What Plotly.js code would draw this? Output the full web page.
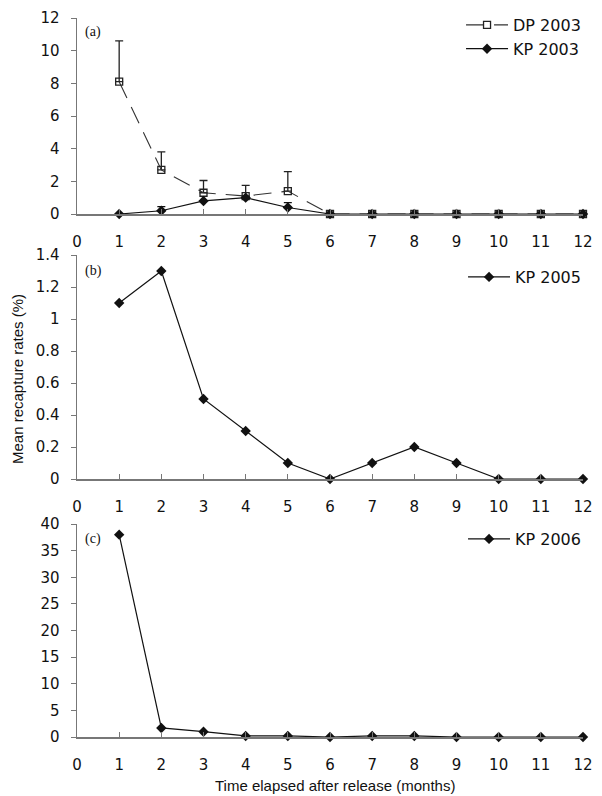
<!DOCTYPE html>
<html>
<head>
<meta charset="utf-8">
<script src="https://cdn.plot.ly/plotly-3.0.1.min.js"></script>
<style>html,body{margin:0;padding:0;background:#fff;}</style>
</head>
<body>
<div id="chart" style="width:602px;height:796px;"></div>
<script>
const months = [1,2,3,4,5,6,7,8,9,10,11,12];
const xTicks = [0,1,2,3,4,5,6,7,8,9,10,11,12];
const dp2003 = [8.1,2.7,1.3,1.1,1.4,0,0,0,0,0,0,0];
const dp2003Err = [2.5,1.1,0.75,0.65,1.2,0,0,0,0,0,0,0];
const kp2003 = [0,0.2,0.8,1.0,0.4,0,0,0,0,0,0,0];
const kp2003Err = [0,0.25,0,0,0.3,0,0,0,0,0,0,0];
const kp2005 = [1.1,1.3,0.5,0.3,0.1,0,0.1,0.2,0.1,0,0,0];
const kp2006 = [38,1.7,1.0,0.2,0.2,0,0.2,0.2,0,0,0,0];
const yTicksA = [0,2,4,6,8,10,12];
const yTicksB = [0,0.2,0.4,0.6,0.8,1,1.2,1.4];
const yTicksC = [0,5,10,15,20,25,30,35,40];
const panelLabels = ['(a)','(b)','(c)'];

const tickFam = 'DejaVu Sans, Verdana, sans-serif';
const fontFam = 'Liberation Sans, Arial, sans-serif';
const serifFam = 'Liberation Serif, Times New Roman, serif';
const black = '#111';

function kpTrace(y, name, xa, ya, legend, err) {
  const t = {
    x: months, y: y, name: name, type: 'scatter', mode: 'lines+markers',
    xaxis: xa, yaxis: ya, legend: legend, cliponaxis: false,
    line: {color: black, width: 1.2},
    marker: {symbol: 'diamond', size: 8, color: black}
  };
  if (err) t.error_y = {type:'data', array: err, arrayminus: months.map(()=>0), symmetric:false, color: black, thickness:1.2, width:4};
  return t;
}

const data = [
  {
    x: months, y: dp2003, name: 'DP 2003', type: 'scatter', mode: 'lines+markers',
    xaxis: 'x', yaxis: 'y', legend: 'legend', cliponaxis: false,
    line: {color: '#333', width: 1.1, dash: '18px,10px'},
    marker: {symbol: 'square-open', size: 7, color: '#222', line: {width: 1.3, color: '#222'}},
    error_y: {type:'data', array: dp2003Err, arrayminus: months.map(()=>0), symmetric:false, color:'#222', thickness:1.3, width:4}
  },
  kpTrace(kp2003, 'KP 2003', 'x', 'y', 'legend', kp2003Err),
  kpTrace(kp2005, 'KP 2005', 'x2', 'y2', 'legend2'),
  kpTrace(kp2006, 'KP 2006', 'x3', 'y3', 'legend3')
];

function xaxis(anchor) {
  return {
    anchor: anchor, domain: [0,1], range: [0,12], tickvals: xTicks, ticktext: xTicks.map(String),
    showgrid: false, zeroline: false, showline: true, linecolor: '#777', linewidth: 1.5,
    ticks: 'inside', ticklen: 5, tickcolor: '#777', tickwidth: 1,
    ticklabelstandoff: 13, automargin: false,
    tickfont: {family: tickFam, size: 15, color: black}
  };
}
function yaxis(anchor, domain, range, ticks) {
  return {
    anchor: anchor, domain: domain, range: range, tickvals: ticks,
    showgrid: false, zeroline: false, showline: true, linecolor: '#777', linewidth: 1.5,
    ticks: 'outside', ticklen: 5, tickcolor: '#777', tickwidth: 1,
    ticklabelstandoff: 8, automargin: false,
    tickfont: {family: tickFam, size: 15, color: black}
  };
}

const H = 719;
const dA = [(737-214)/H, 1];
const dB = [(737-479)/H, (737-255)/H];
const dC = [0, (737-524)/H];

function legend(yTopPx) {
  return {
    x: 1.006, xanchor: 'right', y: (737-yTopPx)/H, yanchor: 'top', bgcolor: 'rgba(0,0,0,0)',
    font: {family: tickFam, size: 16, color: black}, tracegroupgap: 0, itemwidth: 42
  };
}

function panelAnn(label, xa, ya) {
  return {text: label, xref: xa + ' domain', yref: ya + ' domain', x: 0.012, y: 0.93, xanchor:'left', yanchor:'middle', showarrow:false, font:{family: serifFam, size:14, color:black}};
}

const annotations = [
  panelAnn(panelLabels[0], 'x', 'y'),
  panelAnn(panelLabels[1], 'x2', 'y2'),
  panelAnn(panelLabels[2], 'x3', 'y3'),
  {text: 'Mean recapture rates (%)', xref: 'paper', yref: 'paper', x: 0, xshift: -60, y: (737-379)/H, textangle: -90, showarrow: false, xanchor:'center', yanchor:'middle', font:{family: fontFam, size:15, color:black}},
  {text: 'Time elapsed after release (months)', xref: 'paper', yref: 'paper', x: (335-77)/506, y: (737-785)/H, showarrow:false, xanchor:'center', yanchor:'middle', font:{family: fontFam, size:15, color:black}}
];

const layout = {
  width: 602, height: 796,
  margin: {l: 77, r: 19, t: 18, b: 59, autoexpand: false},
  paper_bgcolor: '#fff', plot_bgcolor: '#fff',
  showlegend: true,
  xaxis: xaxis('y'), yaxis: yaxis('x', dA, [0,12], yTicksA),
  xaxis2: xaxis('y2'), yaxis2: yaxis('x2', dB, [0,1.4], yTicksB),
  xaxis3: xaxis('y3'), yaxis3: yaxis('x3', dC, [0,40], yTicksC),
  legend: legend(8),
  legend2: legend(260),
  legend3: legend(522),
  annotations: annotations
};

Plotly.newPlot('chart', data, layout, {displayModeBar: false, staticPlot: true});
</script>
</body>
</html>
